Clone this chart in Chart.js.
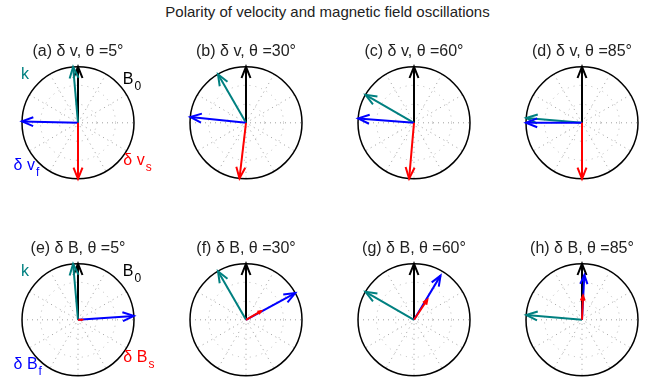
<!DOCTYPE html>
<html>
<head>
<meta charset="utf-8">
<script src="https://cdn.jsdelivr.net/npm/chart.js@4.4.1/dist/chart.umd.min.js"></script>
<style>
  html, body { margin: 0; padding: 0; background: #fff; overflow: hidden; }
  body { width: 655px; height: 382px; position: relative; font-family: "Liberation Sans", Arial, sans-serif; }
  #mainTitle { position: absolute; left: 0; top: 3px; width: 655px; text-align: center; font-size: 15px; color: #222; }
  canvas { position: absolute; }
</style>
</head>
<body>
<div id="mainTitle">Polarity of velocity and magnetic field oscillations</div>

<script>
// angles in degrees, measured clockwise from B0 (straight up)
var thetaDeg = [5, 30, 60, 85];
var kAngle = [-5, -30, -60, -85];
var b0Angle = [0, 0, 0, 0];

var dvFastAngle = [-88.6, -84, -85.5, -90];
var dvFastMag = [1, 1, 1, 1];
var dvSlowAngle = [180, -173.3, -175, 180];
var dvSlowMag = [1, 1, 1, 1];

var dbFastAngle = [86, 61.5, 31, 3];
var dbFastMag = [1, 1, 0.92, 0.8];
var dbSlowAngle = [90, 60, 33.6, 2.4];
var dbSlowMag = [0.07, 0.31, 0.43, 0.43];

var Teal = '#008080';
var Blue = '#0000ff';
var Red = '#ff0000';
var Black = '#000000';

var FONT = '"Liberation Sans", Arial, sans-serif';

function tip(angle, mag) {
    var a = angle * Math.PI / 180;
    return { x: mag * Math.sin(a), y: mag * Math.cos(a) };
}

// dotted polar grid + outer circle
var polarGrid = {
    id: 'polarGrid',
    beforeDatasetsDraw: function (chart) {
        var ctx = chart.ctx, sx = chart.scales.x, sy = chart.scales.y;
        var cx = sx.getPixelForValue(0), cy = sy.getPixelForValue(0);
        var r = sx.getPixelForValue(1) - cx;
        ctx.save();
        ctx.strokeStyle = '#888';
        ctx.lineWidth = 0.8;
        ctx.setLineDash([1, 4]);
        for (var a = 0; a < 180; a += 30) {
            var t = a * Math.PI / 180;
            ctx.beginPath();
            ctx.moveTo(cx - r * Math.cos(t), cy - r * Math.sin(t));
            ctx.lineTo(cx + r * Math.cos(t), cy + r * Math.sin(t));
            ctx.stroke();
        }
        ctx.strokeStyle = '#aaa';
        ctx.setLineDash([1, 5]);
        [0.33, 0.67].forEach(function (f) {
            ctx.beginPath();
            ctx.arc(cx, cy, r * f, 0, 2 * Math.PI);
            ctx.stroke();
        });
        ctx.setLineDash([]);
        ctx.strokeStyle = '#000';
        ctx.lineWidth = 1.5;
        ctx.beginPath();
        ctx.arc(cx, cy, r, 0, 2 * Math.PI);
        ctx.stroke();
        ctx.restore();
    }
};

// compass-style arrow heads, size proportional to vector length
var arrowHeads = {
    id: 'arrowHeads',
    afterDatasetDraw: function (chart, args) {
        var pts = args.meta.data;
        if (pts.length < 2) return;
        var p0 = pts[0], p1 = pts[1];
        var dx = p1.x - p0.x, dy = p1.y - p0.y;
        var ctx = chart.ctx;
        ctx.save();
        ctx.strokeStyle = chart.data.datasets[args.index].borderColor;
        ctx.lineWidth = 2;
        ctx.lineJoin = 'miter';
        ctx.beginPath();
        ctx.moveTo(p0.x + 0.8 * dx - 0.08 * dy, p0.y + 0.8 * dy + 0.08 * dx);
        ctx.lineTo(p1.x, p1.y);
        ctx.lineTo(p0.x + 0.8 * dx + 0.08 * dy, p0.y + 0.8 * dy - 0.08 * dx);
        ctx.stroke();
        ctx.restore();
    }
};

// vector names, placed in data coordinates
var vectorLabels = {
    id: 'vectorLabels',
    afterDraw: function (chart, args, opts) {
        var ctx = chart.ctx, sx = chart.scales.x, sy = chart.scales.y;
        (opts.items || []).forEach(function (it) {
            var px = sx.getPixelForValue(it.x), py = sy.getPixelForValue(it.y);
            ctx.save();
            ctx.fillStyle = it.color;
            ctx.textAlign = 'left';
            ctx.textBaseline = 'alphabetic';
            ctx.font = '16px ' + FONT;
            ctx.fillText(it.text, px, py);
            if (it.sub) {
                var w = ctx.measureText(it.text).width;
                ctx.font = '12px ' + FONT;
                ctx.fillText(it.sub, px + w + 1, py + 6);
            }
            ctx.restore();
        });
    }
};

function makePanel(letter, quantity, theta, vectors, labels, cx, cy) {
    var R = 56, range = 1.1;
    var side = 2 * R * range;
    var W = 168, H = 152, padTop = 2, titleH = 19.2;
    var canvas = document.createElement('canvas');
    canvas.width = W;
    canvas.height = H;
    canvas.style.left = (cx - W / 2) + 'px';
    canvas.style.top = (cy - side / 2 - padTop - titleH) + 'px';
    document.body.appendChild(canvas);

    new Chart(canvas, {
        type: 'scatter',
        data: {
            datasets: vectors.map(function (v) {
                return {
                    data: [{ x: 0, y: 0 }, tip(v.angle, v.mag)],
                    showLine: true,
                    borderColor: v.color,
                    borderWidth: 2,
                    pointRadius: 0,
                    clip: false,
                    order: v.order
                };
            })
        },
        options: {
            responsive: false,
            animation: false,
            layout: {
                padding: { left: (W - side) / 2, right: (W - side) / 2, top: padTop, bottom: H - padTop - titleH - side }
            },
            plugins: {
                legend: { display: false },
                tooltip: { enabled: false },
                title: {
                    display: true,
                    text: '(' + letter + ') ' + quantity + ', θ =' + theta + '°',
                    color: '#222',
                    font: { family: FONT, size: 16, weight: 'normal', lineHeight: 1.2 },
                    padding: { top: 0, bottom: 0 }
                },
                vectorLabels: { items: labels }
            },
            scales: {
                x: { display: false, min: -range, max: range },
                y: { display: false, min: -range, max: range }
            }
        },
        plugins: [polarGrid, arrowHeads, vectorLabels]
    });
}

var colX = [77.5, 245.5, 413.5, 581.5];
var rowY = [122.3, 319.3];

for (var i = 0; i < 4; i++) {
    var vLabels = i === 0 ? [
        { text: 'k', x: -1.02, y: 0.79, color: Teal },
        { text: 'B', sub: '0', x: 0.8, y: 0.7, color: Black },
        { text: 'δ v', sub: 'f', x: -1.15, y: -0.85, color: Blue },
        { text: 'δ v', sub: 's', x: 0.81, y: -0.76, color: Red }
    ] : [];
    makePanel('abcd'[i], 'δ v', thetaDeg[i], [
        { angle: b0Angle[i], mag: 1, color: Black, order: 3 },
        { angle: kAngle[i], mag: 1, color: Teal, order: 2 },
        { angle: dvFastAngle[i], mag: dvFastMag[i], color: Blue, order: 1 },
        { angle: dvSlowAngle[i], mag: dvSlowMag[i], color: Red, order: 0 }
    ], vLabels, colX[i], rowY[0]);

    var bLabels = i === 0 ? [
        { text: 'k', x: -1.02, y: 0.79, color: Teal },
        { text: 'B', sub: '0', x: 0.8, y: 0.79, color: Black },
        { text: 'δ B', sub: 'f', x: -1.15, y: -0.87, color: Blue },
        { text: 'δ B', sub: 's', x: 0.81, y: -0.76, color: Red }
    ] : [];
    makePanel('efgh'[i], 'δ B', thetaDeg[i], [
        { angle: b0Angle[i], mag: 1, color: Black, order: 3 },
        { angle: kAngle[i], mag: 1, color: Teal, order: 2 },
        { angle: dbFastAngle[i], mag: dbFastMag[i], color: Blue, order: 1 },
        { angle: dbSlowAngle[i], mag: dbSlowMag[i], color: Red, order: 0 }
    ], bLabels, colX[i], rowY[1]);
}
</script>
</body>
</html>
